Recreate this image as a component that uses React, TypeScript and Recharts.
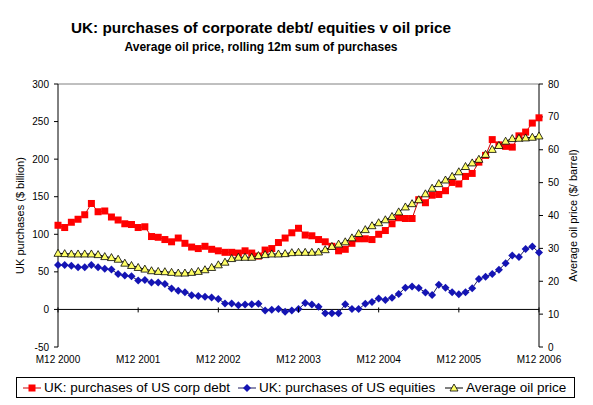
import { LineChart, Line, XAxis, YAxis, ReferenceLine } from "recharts";

const FONT = "'Liberation Sans', Arial, sans-serif";

// rolling 12m sums, $ billion, monthly from M12 2000 to M12 2006
const corpDebt = [
  112, 109, 116, 120, 126, 141, 130, 131, 123, 119, 114, 113,
  109, 110, 97, 96, 93, 90, 95, 88, 83, 81, 84, 80,
  78, 76, 76, 75, 78, 75, 71, 79, 81, 89, 95, 102,
  108, 99, 98, 93, 90, 84, 78, 80, 88, 94, 94, 93,
  100, 105, 114, 122, 121, 121, 146, 142, 152, 153, 158, 169,
  167, 177, 181, 196, 205, 226, 219, 217, 216, 231, 236, 248,
  255,
];
const equities = [
  59, 59, 58, 56, 56, 59, 56, 54, 53, 47, 45, 44,
  38.5, 39, 36, 36, 34, 28, 25, 23, 19, 18, 17, 16,
  14, 8, 8, 5.5, 6.5, 7, 7.5, -1.5, -0.5, 0.5, -3, -1.5,
  0.5, 8.5, 6.5, 3.5, -5, -5, -5, 7, 0.5, 0.5, 7.5, 10,
  14.5, 12.7, 15.5, 20.5, 29, 30.5, 28.5, 22.5, 19.3, 32.7, 29, 22.7,
  20.3, 22.7, 28.2, 40.5, 43.4, 47, 52.7, 61.6, 71.8, 69.7, 80.3, 83.8,
  75.8,
];
// average oil price, $/barrel
const oilPrice = [
  28.5, 28.4, 28.3, 28.3, 28.3, 28.3, 28.1, 27.5, 27.2, 26.7, 25.5, 24.8,
  24.2, 23.7, 23.2, 23, 22.9, 22.7, 22.5, 22.5, 22.7, 23, 23.5, 24.2,
  25, 25.8, 26.9, 27.3, 27.3, 27.3, 27.8, 28.1, 28.3, 28.3, 28.4, 28.7,
  28.8, 28.8, 28.8, 28.9, 29.6, 30.6, 31.3, 32, 33.2, 34.5, 35.7, 36.9,
  37.8, 38.7, 39.7, 41.1, 42.6, 43.6, 44.8, 46.6, 48.3, 49.7, 50.8, 51.9,
  53.3, 54.9, 56, 57.1, 58.6, 60.1, 61.3, 62.6, 63.4, 63.5, 63.6, 63.8,
  64.2,
];

const leftTicks = [-50, 0, 50, 100, 150, 200, 250, 300];
const rightTicks = [0, 10, 20, 30, 40, 50, 60, 70, 80];
const yearTicks = ["M12 2000", "M12 2001", "M12 2002", "M12 2003", "M12 2004", "M12 2005", "M12 2006"];

const seriesNames = [
  "UK: purchases of US corp debt",
  "UK: purchases of US equities",
  "Average oil price",
];

const months: string[] = [];
for (let i = 0; i < corpDebt.length; i++) {
  months.push(`M${((11 + i) % 12) + 1} ${2000 + Math.floor((11 + i) / 12)}`);
}

const data = months.map((m, i) => ({
  month: m,
  debt: corpDebt[i],
  equities: equities[i],
  oil: oilPrice[i],
}));

const W = 593;
const H = 405;
const PLOT_TOP = 84;
const PLOT_BOTTOM = 347;
const ZERO_Y =
  PLOT_TOP + ((300 - 0) / (300 - -50)) * (PLOT_BOTTOM - PLOT_TOP);

const square = (p: any) =>
  p.cx == null ? null : (
    <rect key={`s${p.index}`} x={p.cx - 3.5} y={p.cy - 3.5} width={7} height={7} fill="#ff0000" />
  );

const diamond = (p: any) =>
  p.cx == null ? null : (
    <polygon
      key={`d${p.index}`}
      points={`${p.cx},${p.cy - 4} ${p.cx + 4},${p.cy} ${p.cx},${p.cy + 4} ${p.cx - 4},${p.cy}`}
      fill="#1414b4"
    />
  );

const triangle = (p: any) =>
  p.cx == null ? null : (
    <polygon
      key={`t${p.index}`}
      points={`${p.cx},${p.cy - 4} ${p.cx + 4},${p.cy + 3} ${p.cx - 4},${p.cy + 3}`}
      fill="#ffff66"
      stroke="#000"
      strokeWidth={0.8}
    />
  );

const XTick = ({ x, y, payload }: any) => (
  <g>
    <line x1={x} x2={x} y1={ZERO_Y - 2} y2={ZERO_Y + 3} stroke="#000" />
    <text x={x} y={y} dy={16} textAnchor="middle" fontSize={10} fill="#000" fontFamily={FONT}>
      {payload.value}
    </text>
  </g>
);

const axisTitle = (text: string, dx: number) => (props: any) => {
  const vb = props.viewBox;
  const cx = vb.x + dx;
  const cy = vb.y + vb.height / 2;
  return (
    <text
      x={cx}
      y={cy}
      transform={`rotate(-90, ${cx}, ${cy})`}
      textAnchor="middle"
      dominantBaseline="central"
      fontSize={11}
      fontFamily={FONT}
      fill="#000"
    >
      {text}
    </text>
  );
};

const LegendMarker = ({ kind }: { kind: number }) => (
  <svg width={18} height={10} style={{ display: "block" }}>
    {kind === 0 && (
      <>
        <line x1={0} x2={18} y1={5} y2={5} stroke="#cc0000" />
        <rect x={5.5} y={1.5} width={7} height={7} fill="#ff0000" />
      </>
    )}
    {kind === 1 && (
      <>
        <line x1={0} x2={18} y1={5} y2={5} stroke="#1a1a60" />
        <polygon points="9,1 13,5 9,9 5,5" fill="#1414b4" />
      </>
    )}
    {kind === 2 && (
      <>
        <line x1={0} x2={18} y1={5} y2={5} stroke="#000" />
        <polygon points="9,1 13,8 5,8" fill="#ffff66" stroke="#000" strokeWidth={0.8} />
      </>
    )}
  </svg>
);

const legendLeft = [6, 221, 428];

export default function App() {
  return (
    <div style={{ position: "absolute", left: 0, top: 0, width: W, height: H, background: "#fff" }}>
      <LineChart
        width={W}
        height={H}
        data={data}
        margin={{ top: PLOT_TOP, right: 0, bottom: 0, left: 0 }}
        style={{ fontFamily: FONT }}
      >
        <XAxis
          dataKey="month"
          scale="point"
          padding={{ left: 0, right: 0 }}
          ticks={yearTicks}
          interval={0}
          height={H - PLOT_BOTTOM}
          axisLine={false}
          tickLine={false}
          tickSize={0}
          tickMargin={0}
          tick={<XTick />}
        />
        <YAxis
          yAxisId="left"
          width={58}
          domain={[-50, 300]}
          ticks={leftTicks}
          interval={0}
          allowDataOverflow
          axisLine={{ stroke: "#000" }}
          tickLine={{ stroke: "#000" }}
          tickSize={4}
          tickMargin={5}
          tick={{ fontSize: 10, fill: "#000", fontFamily: FONT }}
          label={{ content: axisTitle("UK purchases ($ billion)", 20) }}
        />
        <YAxis
          yAxisId="right"
          orientation="right"
          width={54}
          domain={[0, 80]}
          ticks={rightTicks}
          interval={0}
          allowDataOverflow
          axisLine={{ stroke: "#000" }}
          tickLine={{ stroke: "#000" }}
          tickSize={4}
          tickMargin={5}
          tick={{ fontSize: 10, fill: "#000", fontFamily: FONT }}
          label={{ content: axisTitle("Average oil price ($/ barrel)", 34) }}
        />
        <ReferenceLine yAxisId="left" y={300} stroke="#808080" />
        <ReferenceLine yAxisId="left" y={0} stroke="#000" />
        <Line
          yAxisId="left"
          dataKey="debt"
          type="linear"
          stroke="#cc0000"
          strokeWidth={1}
          dot={square}
          activeDot={false}
          isAnimationActive={false}
        />
        <Line
          yAxisId="left"
          dataKey="equities"
          type="linear"
          stroke="#1a1a60"
          strokeWidth={1}
          dot={diamond}
          activeDot={false}
          isAnimationActive={false}
        />
        <Line
          yAxisId="right"
          dataKey="oil"
          type="linear"
          stroke="#000"
          strokeWidth={1}
          dot={triangle}
          activeDot={false}
          isAnimationActive={false}
        />
      </LineChart>

      <svg
        width={W}
        height={60}
        style={{ position: "absolute", left: 0, top: 0, pointerEvents: "none" }}
      >
        <text x={261} y={33} textAnchor="middle" fontSize={15.3} fontWeight="bold" fontFamily={FONT} fill="#000">
          UK: purchases of corporate debt/ equities v oil price
        </text>
        <text x={261} y={51} textAnchor="middle" fontSize={12} fontWeight="bold" fontFamily={FONT} fill="#000">
          Average oil price, rolling 12m sum of purchases
        </text>
      </svg>

      <div
        style={{
          position: "absolute",
          left: 16,
          top: 377,
          width: 557,
          height: 19,
          border: "1px solid #000",
          fontFamily: FONT,
          fontSize: 13.5,
          color: "#000",
        }}
      >
        {seriesNames.map((name, i) => (
          <div
            key={name}
            style={{
              position: "absolute",
              left: legendLeft[i],
              top: 0,
              height: 19,
              display: "flex",
              alignItems: "center",
              gap: 3,
              whiteSpace: "nowrap",
            }}
          >
            <LegendMarker kind={i} />
            <span>{name}</span>
          </div>
        ))}
      </div>
    </div>
  );
}
